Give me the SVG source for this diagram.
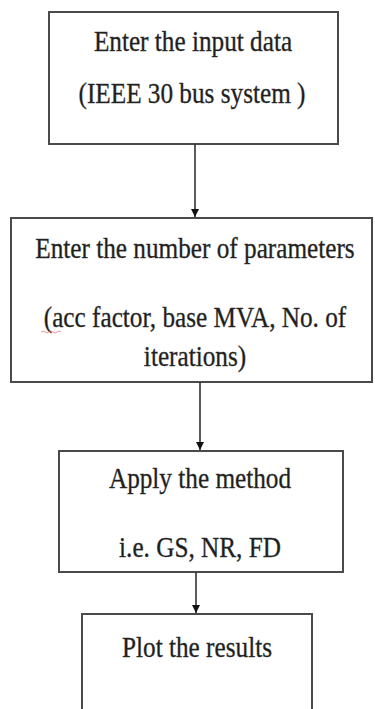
<svg xmlns="http://www.w3.org/2000/svg" width="375" height="709" viewBox="0 0 375 709">
<style>
.box{fill:#fff;stroke:#4a4a4a;stroke-width:2}
.t{font-family:"Liberation Serif","Times New Roman",serif;font-size:29px;fill:#1e1e1e;stroke:#333;stroke-width:0.35;text-anchor:middle}
.c{stroke:#333;stroke-width:1.6;fill:none}
</style>
<defs>
<marker id="ah" viewBox="0 0 10 10" refX="10" refY="5" markerWidth="10" markerHeight="8" orient="auto" markerUnits="userSpaceOnUse">
<path d="M0,0 L10,5 L0,10 Z" fill="#111"/>
</marker>
</defs>
<rect width="375" height="709" fill="#fff"/>
<g id="n1">
<rect class="box" x="49" y="12" width="289" height="132"/>
<text class="t" transform="translate(193,51) scale(0.87,1)">Enter the input data</text>
<text class="t" transform="translate(192,103) scale(0.87,1)">(IEEE 30 bus system )</text>
</g>
<g id="n2">
<rect class="box" x="11" y="218" width="361" height="164"/>
<text class="t" transform="translate(195,258) scale(0.87,1)">Enter the number of parameters</text>
<text class="t" transform="translate(195,327) scale(0.87,1)">(acc factor, base MVA, No. of</text>
<text class="t" transform="translate(195,366) scale(0.87,1)">iterations)</text>
<path d="M41,332 q2,-2 4,0 t4,0 t4,0 t4,0 t4,0" fill="none" stroke="#e05050" stroke-width="1" opacity="0.6"/>
</g>
<g id="n3">
<rect class="box" x="59" y="451" width="284" height="121"/>
<text class="t" transform="translate(200,488) scale(0.87,1)">Apply the method</text>
<text class="t" transform="translate(200,557) scale(0.87,1)">i.e. GS, NR, FD</text>
</g>
<g id="n4">
<rect class="box" x="82" y="614" width="230" height="110"/>
<text class="t" transform="translate(197,657) scale(0.87,1)">Plot the results</text>
</g>
<g id="connectors">
<line class="c" x1="195" y1="144" x2="195" y2="217" marker-end="url(#ah)"/>
<line class="c" x1="200" y1="382" x2="200" y2="450" marker-end="url(#ah)"/>
<line class="c" x1="196" y1="572" x2="196" y2="613" marker-end="url(#ah)"/>
</g>
</svg>
